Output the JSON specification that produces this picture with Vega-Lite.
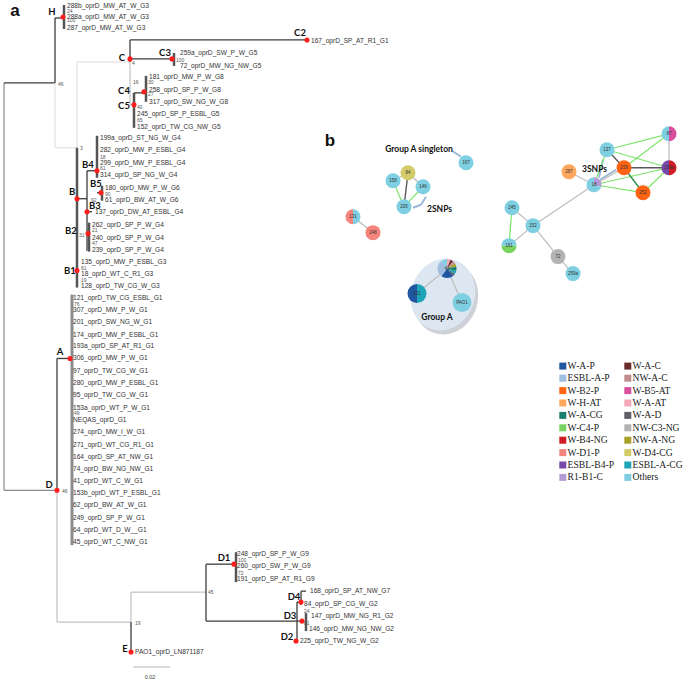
{
  "$schema": "https://vega.github.io/schema/vega-lite/v6.json",
  "width": 685,
  "height": 681,
  "autosize": {"type": "fit", "contains": "padding"},
  "padding": 0,
  "background": "white",
  "config": {"view": {"stroke": null}},
  "datasets": {
    "segs": [
      {"x":4,"y":83,"x2":4,"y2":491,"k":"mid"},
      {"x":4,"y":83,"x2":55,"y2":83,"k":"main"},
      {"x":55,"y":18,"x2":55,"y2":83,"k":"main"},
      {"x":55,"y":18,"x2":63,"y2":18,"k":"main"},
      {"x":64,"y":5,"x2":64,"y2":29,"k":"bar"},
      {"x":55,"y":83,"x2":55,"y2":148,"k":"faint"},
      {"x":55,"y":148,"x2":77,"y2":148,"k":"faint"},
      {"x":77,"y":62,"x2":77,"y2":148,"k":"faint"},
      {"x":77,"y":62,"x2":130,"y2":62,"k":"faint"},
      {"x":130,"y":40,"x2":130,"y2":62,"k":"main"},
      {"x":130,"y":40,"x2":307,"y2":40,"k":"main"},
      {"x":130,"y":59,"x2":172,"y2":59,"k":"main"},
      {"x":174,"y":53,"x2":174,"y2":66,"k":"bar"},
      {"x":130,"y":62,"x2":130,"y2":105,"k":"thin"},
      {"x":130,"y":105,"x2":134,"y2":105,"k":"thin"},
      {"x":134,"y":93,"x2":134,"y2":128,"k":"bar"},
      {"x":134,"y":93,"x2":144,"y2":93,"k":"main"},
      {"x":146,"y":76,"x2":146,"y2":102,"k":"bar"},
      {"x":77,"y":148,"x2":77,"y2":288,"k":"bar"},
      {"x":77,"y":199,"x2":87,"y2":199,"k":"main"},
      {"x":87,"y":171,"x2":87,"y2":251,"k":"main"},
      {"x":87,"y":171,"x2":97,"y2":171,"k":"main"},
      {"x":97,"y":136,"x2":97,"y2":178,"k":"bar"},
      {"x":97,"y":193,"x2":101,"y2":193,"k":"main"},
      {"x":102,"y":186,"x2":102,"y2":201,"k":"bar"},
      {"x":87,"y":212,"x2":92,"y2":212,"k":"main"},
      {"x":89,"y":223,"x2":89,"y2":252,"k":"bar"},
      {"x":4,"y":491,"x2":57,"y2":491,"k":"mid"},
      {"x":57,"y":359,"x2":57,"y2":491,"k":"main"},
      {"x":57,"y":359,"x2":70,"y2":359,"k":"main"},
      {"x":72,"y":295,"x2":72,"y2":546,"k":"gbar"},
      {"x":57,"y":491,"x2":57,"y2":623,"k":"thin"},
      {"x":57,"y":623,"x2":131,"y2":623,"k":"thin"},
      {"x":131,"y":593,"x2":131,"y2":623,"k":"thin"},
      {"x":131,"y":623,"x2":131,"y2":653,"k":"main"},
      {"x":131,"y":593,"x2":206,"y2":593,"k":"thin"},
      {"x":206,"y":565,"x2":206,"y2":622,"k":"main"},
      {"x":206,"y":565,"x2":234,"y2":565,"k":"main"},
      {"x":236,"y":553,"x2":236,"y2":583,"k":"bar"},
      {"x":206,"y":622,"x2":297,"y2":622,"k":"main"},
      {"x":297,"y":603,"x2":297,"y2":642,"k":"main"},
      {"x":297,"y":603,"x2":301,"y2":603,"k":"main"},
      {"x":301,"y":592,"x2":301,"y2":606,"k":"main"},
      {"x":301,"y":592,"x2":306,"y2":592,"k":"main"},
      {"x":297,"y":622,"x2":303,"y2":622,"k":"main"},
      {"x":306,"y":614,"x2":306,"y2":632,"k":"bar"},
      {"x":133,"y":668,"x2":170,"y2":668,"k":"thin"},
      {"x":452,"y":151,"x2":461,"y2":157,"k":"arrow"},
      {"x":413,"y":208,"x2":421,"y2":205,"k":"arrow"},
      {"x":421,"y":205,"x2":426,"y2":197,"k":"arrow"},
      {"x":599,"y":178,"x2":603,"y2":160,"k":"arrow"},
      {"x":600,"y":180,"x2":616,"y2":170,"k":"arrow"}
    ],
    "nodes": [
      {"id":"167","x":466,"y":163,"grp":"net"},
      {"id":"84","x":408,"y":173,"grp":"net"},
      {"id":"158","x":393,"y":181,"grp":"net"},
      {"id":"146","x":423,"y":187,"grp":"net"},
      {"id":"205","x":404,"y":207,"grp":"net"},
      {"id":"131","x":353,"y":217,"grp":"net"},
      {"id":"248","x":373,"y":233,"grp":"net"},
      {"id":"87","x":669,"y":134,"grp":"net"},
      {"id":"137","x":607,"y":150,"grp":"net"},
      {"id":"239","x":624,"y":168,"grp":"net"},
      {"id":"199a","x":669,"y":168,"grp":"net"},
      {"id":"287","x":569,"y":172,"grp":"net"},
      {"id":"18","x":594,"y":185,"grp":"net"},
      {"id":"252","x":643,"y":193,"grp":"net"},
      {"id":"245","x":512,"y":208,"grp":"net"},
      {"id":"152","x":533,"y":226,"grp":"net"},
      {"id":"161","x":509,"y":246,"grp":"net"},
      {"id":"72","x":558,"y":257,"grp":"net"},
      {"id":"259a","x":573,"y":274,"grp":"net"},
      {"id":"41","x":447,"y":269,"grp":"A"},
      {"id":"121","x":417,"y":294,"grp":"A"},
      {"id":"PAO1","x":462,"y":303,"grp":"A"}
    ],
    "edges": [
      {"a":"158","b":"84","k":"edge"},{"a":"84","b":"146","k":"edge"},{"a":"84","b":"205","k":"dark"},
      {"a":"158","b":"205","k":"green"},{"a":"205","b":"146","k":"green"},{"a":"131","b":"248","k":"edge"},
      {"a":"245","b":"152","k":"edge"},{"a":"245","b":"161","k":"green"},{"a":"161","b":"152","k":"edge"},
      {"a":"152","b":"18","k":"edge"},{"a":"152","b":"72","k":"edge"},{"a":"72","b":"259a","k":"edge"},
      {"a":"287","b":"18","k":"edge"},{"a":"18","b":"137","k":"green"},{"a":"18","b":"239","k":"edge"},
      {"a":"18","b":"252","k":"green"},{"a":"18","b":"199a","k":"green"},{"a":"137","b":"239","k":"dark"},
      {"a":"137","b":"87","k":"green"},{"a":"137","b":"199a","k":"green"},{"a":"239","b":"87","k":"green"},
      {"a":"239","b":"199a","k":"dark"},{"a":"239","b":"252","k":"dkgreen"},{"a":"87","b":"199a","k":"edge"},
      {"a":"252","b":"199a","k":"green"},{"a":"41","b":"121","k":"edge"},{"a":"41","b":"PAO1","k":"edge"}
    ],
    "slices": [
      {"id":"167","cat":"Others","share":1,"ord":1},
      {"id":"84","cat":"W-D4-CG","share":1,"ord":1},
      {"id":"158","cat":"Others","share":1,"ord":1},
      {"id":"146","cat":"Others","share":1,"ord":1},
      {"id":"205","cat":"Others","share":1,"ord":1},
      {"id":"131","cat":"Others","share":0.5,"ord":1},
      {"id":"131","cat":"W-D1-P","share":0.5,"ord":2},
      {"id":"248","cat":"W-D1-P","share":1,"ord":1},
      {"id":"87","cat":"W-B5-AT","share":0.5,"ord":1},
      {"id":"87","cat":"Others","share":0.5,"ord":2},
      {"id":"137","cat":"Others","share":1,"ord":1},
      {"id":"239","cat":"W-B2-P","share":1,"ord":1},
      {"id":"199a","cat":"W-B4-NG","share":0.5,"ord":1},
      {"id":"199a","cat":"ESBL-B4-P","share":0.5,"ord":2},
      {"id":"287","cat":"W-H-AT","share":1,"ord":1},
      {"id":"18","cat":"R1-B1-C","share":0.3,"ord":1},
      {"id":"18","cat":"Others","share":0.7,"ord":2},
      {"id":"252","cat":"W-B2-P","share":1,"ord":1},
      {"id":"245","cat":"Others","share":1,"ord":1},
      {"id":"152","cat":"Others","share":1,"ord":1},
      {"id":"161","cat":"Others","share":0.25,"ord":1},
      {"id":"161","cat":"W-C4-P","share":0.5,"ord":2},
      {"id":"161","cat":"Others","share":0.25,"ord":3},
      {"id":"72","cat":"NW-C3-NG","share":1,"ord":1},
      {"id":"259a","cat":"Others","share":1,"ord":1},
      {"id":"41","cat":"W-A-AT","share":0.06,"ord":1},
      {"id":"41","cat":"W-A-C","share":0.05,"ord":2},
      {"id":"41","cat":"NW-A-C","share":0.05,"ord":3},
      {"id":"41","cat":"NW-A-NG","share":0.06,"ord":4},
      {"id":"41","cat":"W-A-CG","share":0.07,"ord":5},
      {"id":"41","cat":"ESBL-A-CG","share":0.06,"ord":6},
      {"id":"41","cat":"W-A-D","share":0.04,"ord":7},
      {"id":"41","cat":"W-A-P","share":0.21,"ord":8},
      {"id":"41","cat":"ESBL-A-P","share":0.3,"ord":9},
      {"id":"41","cat":"Others","share":0.1,"ord":10},
      {"id":"121","cat":"ESBL-A-CG","share":0.5,"ord":1},
      {"id":"121","cat":"W-A-P","share":0.5,"ord":2},
      {"id":"PAO1","cat":"Others","share":1,"ord":1}
    ],
    "dots": [
      {"x":63,"y":17},{"x":130,"y":59},{"x":307,"y":40},{"x":172,"y":59},{"x":144,"y":92},{"x":134,"y":105},
      {"x":97,"y":171},{"x":101,"y":193},{"x":77,"y":199},{"x":87,"y":212},{"x":88,"y":234},{"x":77,"y":271},
      {"x":70,"y":359},{"x":57,"y":491},{"x":234,"y":565},{"x":301,"y":603},{"x":302,"y":622},{"x":296,"y":642},{"x":131,"y":653}
    ],
    "letters": [
      {"x":52,"y":12,"t":"H"},{"x":122,"y":58,"t":"C"},{"x":300,"y":33,"t":"C2"},{"x":165,"y":53,"t":"C3"},
      {"x":124,"y":91,"t":"C4"},{"x":124,"y":106,"t":"C5"},{"x":88,"y":165,"t":"B4"},{"x":96,"y":184,"t":"B5"},
      {"x":72,"y":192,"t":"B"},{"x":95,"y":206,"t":"B3"},{"x":71,"y":231,"t":"B2"},{"x":70,"y":271,"t":"B1"},
      {"x":60,"y":353,"t":"A"},{"x":49,"y":486,"t":"D"},{"x":224,"y":559,"t":"D1"},{"x":125,"y":650,"t":"E"},
      {"x":294,"y":598,"t":"D4"},{"x":290,"y":617,"t":"D3"},{"x":287,"y":638,"t":"D2"}
    ],
    "boots": [
      {"x":67,"y":11,"t":"24"},{"x":67,"y":20,"t":"100"},{"x":58,"y":84,"t":"46"},{"x":80,"y":148,"t":"3"},
      {"x":132,"y":63,"t":"4"},{"x":133,"y":82,"t":"16"},{"x":176,"y":60,"t":"100"},{"x":148,"y":82,"t":"30"},
      {"x":148,"y":94,"t":"27"},{"x":137,"y":107,"t":"40"},{"x":137,"y":120,"t":"65"},{"x":100,"y":157,"t":"18"},
      {"x":100,"y":168,"t":"61"},{"x":91,"y":200,"t":"92"},{"x":105,"y":194,"t":"90"},{"x":79,"y":235,"t":"31"},
      {"x":92,"y":230,"t":"21"},{"x":92,"y":243,"t":"47"},{"x":81,"y":268,"t":"61"},{"x":81,"y":280,"t":"19"},
      {"x":74,"y":304,"t":"76"},{"x":74,"y":414,"t":"49"},{"x":62,"y":492,"t":"46"},{"x":135,"y":624,"t":"19"},
      {"x":208,"y":593,"t":"45"},{"x":238,"y":561,"t":"100"},{"x":238,"y":574,"t":"72"},{"x":304,"y":612,"t":"24"},
      {"x":304,"y":624,"t":"81"}
    ],
    "leaves": [
      {"x":67,"y":6,"t":"288b_oprD_MW_AT_W_G3"},{"x":67,"y":17,"t":"288a_oprD_MW_AT_W_G3"},{"x":67,"y":28,"t":"287_oprD_MW_AT_W_G3"},
      {"x":311,"y":41,"t":"167_oprD_SP_AT_R1_G1"},
      {"x":180,"y":53,"t":"259a_oprD_SW_P_W_G5"},{"x":180,"y":66,"t":"72_oprD_MW_NG_NW_G5"},
      {"x":149,"y":77,"t":"181_oprD_MW_P_W_G8"},{"x":149,"y":90,"t":"258_oprD_SP_P_W_G8"},{"x":149,"y":102,"t":"317_oprD_SW_NG_W_G8"},
      {"x":137,"y":114,"t":"245_oprD_SP_P_ESBL_G5"},{"x":137,"y":127,"t":"152_oprD_TW_CG_NW_G5"},
      {"x":100,"y":138,"t":"199a_oprD_ST_NG_W_G4"},{"x":100,"y":150,"t":"282_oprD_MW_P_ESBL_G4"},{"x":100,"y":163,"t":"299_oprD_MW_P_ESBL_G4"},
      {"x":100,"y":175,"t":"314_oprD_SP_NG_W_G4"},{"x":105,"y":188,"t":"180_oprD_MW_P_W_G6"},{"x":105,"y":200,"t":"61_oprD_BW_AT_W_G6"},
      {"x":95,"y":212,"t":"137_oprD_DW_AT_ESBL_G4"},{"x":92,"y":225,"t":"262_oprD_SP_P_W_G4"},{"x":92,"y":238,"t":"240_oprD_SP_P_W_G4"},
      {"x":92,"y":250,"t":"239_oprD_SP_P_W_G4"},{"x":81,"y":262,"t":"135_oprD_MW_P_ESBL_G3"},{"x":81,"y":274,"t":"18_oprD_WT_C_R1_G3"},
      {"x":81,"y":286,"t":"128_oprD_TW_CG_W_G3"},
      {"x":73,"y":298,"t":"121_oprD_TW_CG_ESBL_G1"},{"x":73,"y":310,"t":"307_oprD_MW_P_W_G1"},{"x":73,"y":322,"t":"201_oprD_SW_NG_W_G1"},
      {"x":73,"y":335,"t":"174_oprD_MW_P_ESBL_G1"},{"x":73,"y":347,"t":"193a_oprD_SP_AT_R1_G1"},{"x":73,"y":359,"t":"306_oprD_MW_P_W_G1"},
      {"x":73,"y":372,"t":"97_oprD_TW_CG_W_G1"},{"x":73,"y":384,"t":"280_oprD_MW_P_ESBL_G1"},{"x":73,"y":396,"t":"95_oprD_TW_CG_W_G1"},
      {"x":73,"y":409,"t":"153a_oprD_WT_P_W_G1"},{"x":73,"y":421,"t":"NEQAS_oprD_G1"},{"x":73,"y":433,"t":"274_oprD_MW_I_W_G1"},
      {"x":73,"y":446,"t":"271_oprD_WT_CG_R1_G1"},{"x":73,"y":458,"t":"164_oprD_SP_AT_NW_G1"},{"x":73,"y":470,"t":"74_oprD_BW_NG_NW_G1"},
      {"x":73,"y":482,"t":"41_oprD_WT_C_W_G1"},{"x":73,"y":494,"t":"153b_oprD_WT_P_ESBL_G1"},{"x":73,"y":506,"t":"62_oprD_BW_AT_W_G1"},
      {"x":73,"y":519,"t":"249_oprD_SP_P_W_G1"},{"x":73,"y":531,"t":"64_oprD_WT_D_W__G1"},{"x":73,"y":543,"t":"45_oprD_WT_C_NW_G1"},
      {"x":237,"y":555,"t":"248_oprD_SP_P_W_G9"},{"x":237,"y":567,"t":"260_oprD_SW_P_W_G9"},{"x":237,"y":580,"t":"191_oprD_SP_AT_R1_G9"},
      {"x":310,"y":592,"t":"168_oprD_SP_AT_NW_G7"},{"x":304,"y":605,"t":"84_oprD_SP_CG_W_G2"},{"x":311,"y":617,"t":"147_oprD_MW_NG_R1_G2"},
      {"x":309,"y":630,"t":"146_oprD_MW_NG_NW_G2"},{"x":300,"y":642,"t":"225_oprD_TW_NG_W_G2"},
      {"x":135,"y":653,"t":"PAO1_oprD_LN871187"}
    ],
    "notesC": [
      {"x":419,"y":149,"t":"Group A singleton"},
      {"x":437,"y":317,"t":"Group A"}
    ],
    "notesL": [
      {"x":427,"y":209,"t":"2SNPs"},
      {"x":582,"y":169,"t":"3SNPs"}
    ],
    "panels": [
      {"x":15,"y":11,"t":"a"},{"x":330,"y":141,"t":"b"}
    ],
    "scalelab": [{"x":150,"y":678,"t":"0.02"}],
    "blob": [{"x":443,"y":295}]
  },
  "encoding": {
    "x": {"field": "x", "type": "quantitative", "scale": {"domain": [0, 685], "nice": false, "zero": false}, "axis": null},
    "y": {"field": "y", "type": "quantitative", "scale": {"domain": [0, 681], "nice": false, "zero": false, "reverse": true}, "axis": null}
  },
  "layer": [
    {
      "data": {"name": "blob"},
      "mark": {"type": "point", "shape": "M 0 -1 C 0.4805 -1 0.87 -0.5523 0.87 0 C 0.87 0.5523 0.4805 1 0 1 C -0.4805 1 -0.87 0.5523 -0.87 0 C -0.87 -0.5523 -0.4805 -1 0 -1 Z", "size": 5300, "angle": 20, "filled": true, "fill": "#b9bec6", "opacity": 0.7, "strokeWidth": 0, "xOffset": 3, "yOffset": 4}
    },
    {
      "data": {"name": "blob"},
      "mark": {"type": "point", "shape": "M 0 -1 C 0.4805 -1 0.87 -0.5523 0.87 0 C 0.87 0.5523 0.4805 1 0 1 C -0.4805 1 -0.87 0.5523 -0.87 0 C -0.87 -0.5523 -0.4805 -1 0 -1 Z", "size": 5300, "angle": 20, "filled": true, "fill": "#dde7f2", "opacity": 1, "strokeWidth": 0}
    },
    {
      "data": {"name": "segs"},
      "mark": {"type": "rule", "strokeCap": "butt"},
      "encoding": {
        "x2": {"field": "x2"},
        "y2": {"field": "y2"},
        "stroke": {"field": "k", "type": "nominal", "legend": null, "scale": {"domain": ["main","bar","gbar","mid","thin","faint","edge","green","dark","dkgreen","arrow"], "range": ["#3c3c3c","#555555","#8c8c8c","#8a8a8a","#b4b4b4","#dcdcdc","#bdbdbd","#7ee46c","#5a5a5a","#2f8f4f","#9cb9d9"]}},
        "strokeWidth": {"field": "k", "type": "nominal", "legend": null, "scale": {"type": "ordinal", "domain": ["main","bar","gbar","mid","thin","faint","edge","green","dark","dkgreen","arrow"], "range": [1.3,2.5,3,1.2,1,1,1.2,1.2,1.4,1.4,2]}}
      }
    },
    {
      "data": {"name": "edges"},
      "transform": [
        {"lookup": "a", "from": {"data": {"name": "nodes"}, "key": "id", "fields": ["x", "y"]}},
        {"lookup": "b", "from": {"data": {"name": "nodes"}, "key": "id", "fields": ["x", "y"]}, "as": ["x2", "y2"]}
      ],
      "mark": {"type": "rule"},
      "encoding": {
        "x2": {"field": "x2"},
        "y2": {"field": "y2"},
        "stroke": {"field": "k", "type": "nominal", "legend": null, "scale": {"domain": ["main","bar","gbar","mid","thin","faint","edge","green","dark","dkgreen","arrow"], "range": ["#3c3c3c","#555555","#8c8c8c","#8a8a8a","#b4b4b4","#dcdcdc","#bdbdbd","#7ee46c","#5a5a5a","#2f8f4f","#9cb9d9"]}},
        "strokeWidth": {"field": "k", "type": "nominal", "legend": null, "scale": {"type": "ordinal", "domain": ["main","bar","gbar","mid","thin","faint","edge","green","dark","dkgreen","arrow"], "range": [1.3,2.5,3,1.2,1,1,1.2,1.2,1.4,1.4,2]}}
      }
    },
    {
      "data": {"name": "slices"},
      "transform": [
        {"lookup": "id", "from": {"data": {"name": "nodes"}, "key": "id", "fields": ["x", "y", "grp"]}},
        {"filter": "datum.grp === 'net'"},
        {"stack": "share", "groupby": ["id"], "sort": [{"field": "ord", "order": "ascending"}], "offset": "normalize", "as": ["a0", "a1"]}
      ],
      "mark": {"type": "arc", "outerRadius": 7.5},
      "encoding": {
        "theta": {"field": "a0", "type": "quantitative", "scale": {"domain": [0, 1]}, "stack": null},
        "theta2": {"field": "a1"},
        "color": {"field": "cat", "type": "nominal",
          "scale": {"domain": ["W-A-P","ESBL-A-P","W-B2-P","W-H-AT","W-A-CG","W-C4-P","W-B4-NG","W-D1-P","ESBL-B4-P","R1-B1-C","W-A-C","NW-A-C","W-B5-AT","W-A-AT","W-A-D","NW-C3-NG","NW-A-NG","W-D4-CG","ESBL-A-CG","Others"],
                    "range": ["#1f56a0","#a0bfe0","#ff6414","#ffa75c","#1a7e6e","#79d35e","#d01c24","#f5847c","#7848a8","#b59bd6","#6b2b2b","#c08c8c","#d84f9e","#f5a7b6","#5f5f6a","#b3b3b3","#a8a22a","#d3cb6a","#1ea6b8","#7fcfe2"]},
          "legend": {"title": null, "orient": "none", "legendX": 558, "legendY": 361, "columns": 2, "columnPadding": 9, "rowPadding": 1.4, "symbolType": "square", "symbolSize": 49, "symbolStrokeWidth": 0, "symbolOpacity": 1, "labelFont": "Liberation Serif", "labelFontSize": 9.6, "labelColor": "#222222", "labelOffset": 0, "padding": 0}
        }
      }
    },
    {
      "data": {"name": "slices"},
      "transform": [
        {"lookup": "id", "from": {"data": {"name": "nodes"}, "key": "id", "fields": ["x", "y", "grp"]}},
        {"filter": "datum.grp === 'A'"},
        {"stack": "share", "groupby": ["id"], "sort": [{"field": "ord", "order": "ascending"}], "offset": "normalize", "as": ["a0", "a1"]}
      ],
      "mark": {"type": "arc", "outerRadius": 9.5},
      "encoding": {
        "theta": {"field": "a0", "type": "quantitative", "scale": {"domain": [0, 1]}, "stack": null},
        "theta2": {"field": "a1"},
        "color": {"field": "cat", "type": "nominal",
          "scale": {"domain": ["W-A-P","ESBL-A-P","W-B2-P","W-H-AT","W-A-CG","W-C4-P","W-B4-NG","W-D1-P","ESBL-B4-P","R1-B1-C","W-A-C","NW-A-C","W-B5-AT","W-A-AT","W-A-D","NW-C3-NG","NW-A-NG","W-D4-CG","ESBL-A-CG","Others"],
                    "range": ["#1f56a0","#a0bfe0","#ff6414","#ffa75c","#1a7e6e","#79d35e","#d01c24","#f5847c","#7848a8","#b59bd6","#6b2b2b","#c08c8c","#d84f9e","#f5a7b6","#5f5f6a","#b3b3b3","#a8a22a","#d3cb6a","#1ea6b8","#7fcfe2"]},
          "legend": {"title": null, "orient": "none", "legendX": 558, "legendY": 361, "columns": 2, "columnPadding": 9, "rowPadding": 1.4, "symbolType": "square", "symbolSize": 49, "symbolStrokeWidth": 0, "symbolOpacity": 1, "labelFont": "Liberation Serif", "labelFontSize": 9.6, "labelColor": "#222222", "labelOffset": 0, "padding": 0}
        }
      }
    },
    {
      "data": {"name": "nodes"},
      "mark": {"type": "text", "fontSize": 4.5, "font": "Liberation Sans", "color": "#333333", "align": "center", "baseline": "middle"},
      "encoding": {"text": {"field": "id"}}
    },
    {
      "data": {"name": "dots"},
      "mark": {"type": "point", "shape": "circle", "filled": true, "fill": "#ff1e1e", "size": 26, "opacity": 1, "strokeWidth": 0}
    },
    {
      "data": {"name": "leaves"},
      "mark": {"type": "text", "fontSize": 6.6, "font": "Liberation Sans", "color": "#333333", "align": "left", "baseline": "middle"},
      "encoding": {"text": {"field": "t"}}
    },
    {
      "data": {"name": "boots"},
      "mark": {"type": "text", "fontSize": 5, "font": "Liberation Sans", "color": "#555555", "align": "left", "baseline": "middle"},
      "encoding": {"text": {"field": "t"}}
    },
    {
      "data": {"name": "letters"},
      "mark": {"type": "text", "fontSize": 9.5, "font": "Lato", "fontWeight": "bold", "color": "#111111", "align": "center", "baseline": "middle"},
      "encoding": {"text": {"field": "t"}}
    },
    {
      "data": {"name": "notesC"},
      "mark": {"type": "text", "fontSize": 8.5, "font": "Lato", "fontWeight": "bold", "color": "#111111", "align": "center", "baseline": "middle"},
      "encoding": {"text": {"field": "t"}}
    },
    {
      "data": {"name": "notesL"},
      "mark": {"type": "text", "fontSize": 8.5, "font": "Lato", "fontWeight": "bold", "color": "#111111", "align": "left", "baseline": "middle"},
      "encoding": {"text": {"field": "t"}}
    },
    {
      "data": {"name": "panels"},
      "mark": {"type": "text", "fontSize": 17, "font": "Liberation Sans", "fontWeight": "bold", "color": "#111111", "align": "center", "baseline": "middle"},
      "encoding": {"text": {"field": "t"}}
    },
    {
      "data": {"name": "scalelab"},
      "mark": {"type": "text", "fontSize": 5.5, "font": "Liberation Sans", "color": "#444444", "align": "center", "baseline": "middle"},
      "encoding": {"text": {"field": "t"}}
    }
  ]
}
